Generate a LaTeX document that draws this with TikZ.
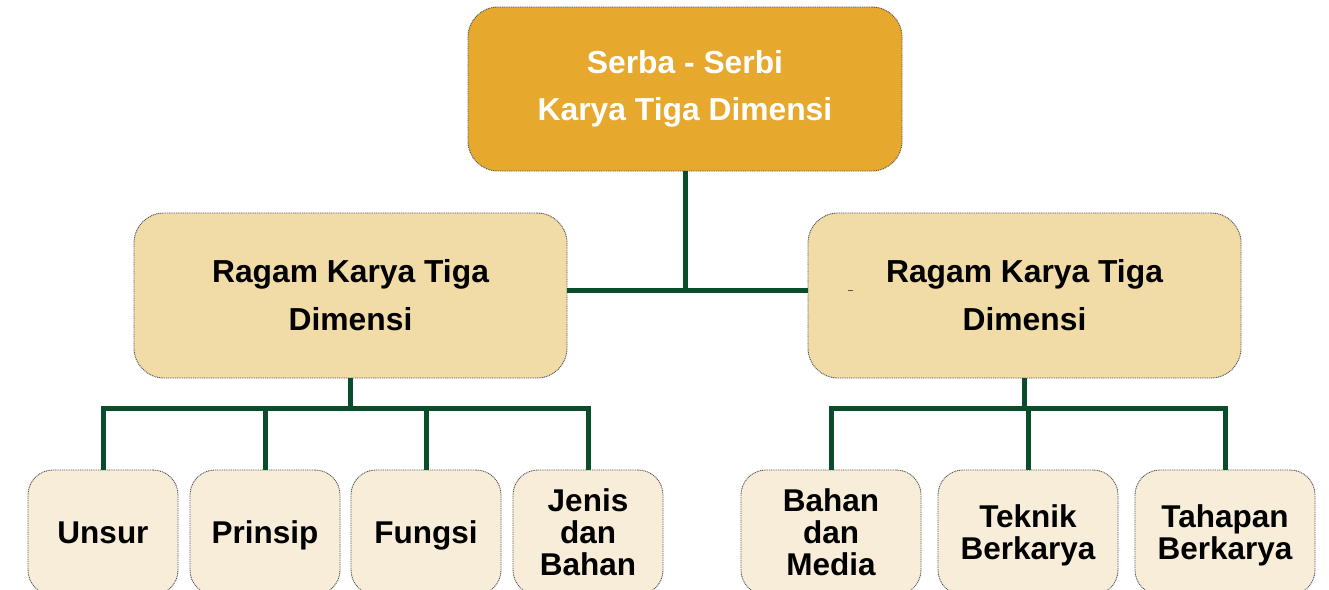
\documentclass[tikz,border=0pt]{standalone}
\usepackage{fontspec}
\setmainfont{Liberation Sans}
\definecolor{topfill}{HTML}{E6A92D}
\definecolor{midfill}{HTML}{F1DBA7}
\definecolor{lowfill}{HTML}{F8EDD9}
\definecolor{conncol}{HTML}{0A4D2B}
\definecolor{edgecol}{HTML}{555555}
\tikzset{
  boxbase/.style={draw=edgecol, line width=0.9pt, dash pattern=on 1pt off 0.8pt, align=center, inner sep=0pt},
  topbox/.style={boxbase, fill=topfill, rounded corners=30pt, minimum width=434pt, minimum height=164pt, text=white, font=\bfseries\fontsize{31.8}{47}\selectfont},
  midbox/.style={boxbase, fill=midfill, rounded corners=30pt, minimum width=433pt, minimum height=165pt, font=\bfseries\fontsize{31.8}{48}\selectfont},
  lowbox/.style={boxbase, fill=lowfill, rounded corners=25pt, minimum height=125pt, text depth=0pt, font=\bfseries\fontsize{31.5}{32}\selectfont},
  narrow/.style={lowbox, minimum width=150pt},
  wide/.style={lowbox, minimum width=180pt},
  conn/.style={draw=conncol, line width=5pt}
}
\begin{document}
\begin{tikzpicture}[x=1pt,y=-1pt]
\useasboundingbox (0,0) rectangle (1329,589);
\clip (0,0) rectangle (1329,589);
\coordinate (j1) at (685,290);
\coordinate (bL) at (350,408);
\coordinate (bR) at (1024,408);
\node[topbox] (top) at (685,89) {Serba - Serbi\\Karya Tiga Dimensi};
\node[midbox] (left) at (350.5,295.5) {Ragam Karya Tiga\\Dimensi};
\node[midbox] (right) at (1024.5,295.5) {Ragam Karya Tiga\\Dimensi};
\node[narrow] (u) at (103,532.5) {Unsur};
\node[narrow] (p) at (265,532.5) {Prinsip};
\node[narrow] (f) at (426,532.5) {Fungsi};
\node[narrow] (jb) at (588,532.5) {Jenis\\dan\\Bahan};
\node[wide] (bm) at (831,532.5) {Bahan\\dan\\Media};
\node[wide] (tk) at (1028,532.5) {Teknik\\Berkarya};
\node[wide] (tb) at (1225,532.5) {Tahapan\\Berkarya};
\draw[conn] (top.south) -- (top.south|-j1);
\draw[conn] (left.east|-j1) -- (right.west|-j1);
\draw[conn] (left.south) -- (left.south|-bL);
\draw[conn] (u.north) -- (u.north|-bL) -- (jb.north|-bL) -- (jb.north);
\draw[conn] (p.north|-bL) -- (p.north);
\draw[conn] (f.north|-bL) -- (f.north);
\draw[conn] (right.south) -- (right.south|-bR);
\draw[conn] (bm.north) -- (bm.north|-bR) -- (tb.north|-bR) -- (tb.north);
\draw[conn] (tk.north|-bR) -- (tk.north);
\draw[edgecol, line width=1pt] (847.5,290.5) -- (852.5,290.5);
\end{tikzpicture}
\end{document}
